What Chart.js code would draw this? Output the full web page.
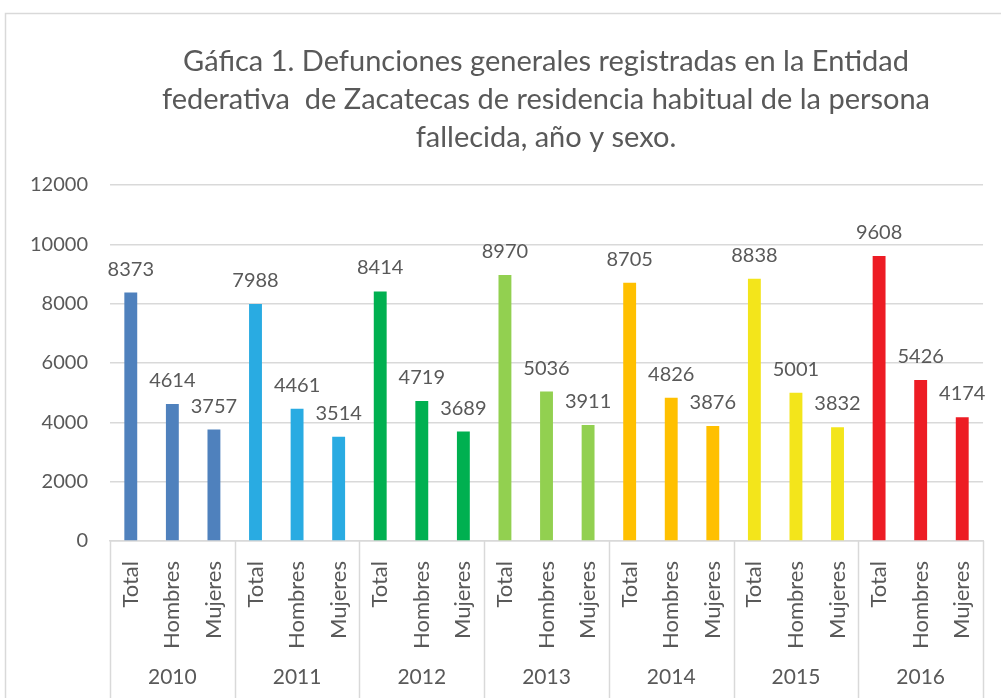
<!DOCTYPE html>
<html>
<head>
<meta charset="utf-8">
<script src="https://cdn.jsdelivr.net/npm/chart.js@4.4.1/dist/chart.umd.min.js"></script>
<style>
  html, body { margin: 0; padding: 0; background: #fff; }
  #wrap { width: 1001px; height: 698px; position: relative; }
</style>
</head>
<body>
<div id="wrap"><canvas id="grafica" width="1001" height="698"></canvas></div>
<script>
// Datos de la gráfica
const years = ['2010', '2011', '2012', '2013', '2014', '2015', '2016'];
const sexes = ['Total', 'Hombres', 'Mujeres'];
const totalValues = [8373, 7988, 8414, 8970, 8705, 8838, 9608];
const hombresValues = [4614, 4461, 4719, 5036, 4826, 5001, 5426];
const mujeresValues = [3757, 3514, 3689, 3911, 3876, 3832, 4174];
const yearColors = ['#4F81BD', '#29ABE2', '#00B050', '#92D050', '#FFC000', '#F3E51B', '#ED1C24'];
const titleLines = [
  'Gáfica 1. Defunciones generales registradas en la Entidad',
  'federativa  de Zacatecas de residencia habitual de la persona',
  'fallecida, año y sexo.'
];
const yMax = 12000;
const yStep = 2000;

const FONT = 'Lato, "Open Sans", sans-serif';
const TEXT = '#595959';
const LINE = '#d9d9d9';

// Etiquetas y valores en orden año -> sexo
const labels = [];
const values = [];
const colors = [];
years.forEach((year, i) => {
  const byYear = [totalValues[i], hombresValues[i], mujeresValues[i]];
  sexes.forEach((sex, j) => {
    labels.push(sex);
    values.push(byYear[j]);
    colors.push(yearColors[i]);
  });
});

// Marco, título, etiquetas de datos y eje de años
const excelLook = {
  id: 'excelLook',
  afterDraw(chart) {
    const ctx = chart.ctx;
    const area = chart.chartArea;
    const x = chart.scales.x;
    ctx.save();

    // marco del gráfico
    ctx.strokeStyle = LINE;
    ctx.lineWidth = 1.5;
    ctx.strokeRect(5.5, 13.5, 1010, 700);

    // título
    ctx.fillStyle = TEXT;
    ctx.font = '29px ' + FONT;
    ctx.textAlign = 'center';
    ctx.textBaseline = 'middle';
    titleLines.forEach((line, i) => ctx.fillText(line, 546, 62 + i * 38));

    // valores sobre las barras
    ctx.font = '20px ' + FONT;
    ctx.textBaseline = 'alphabetic';
    const meta = chart.getDatasetMeta(0);
    meta.data.forEach((bar, i) => {
      ctx.fillText(String(values[i]), bar.x, bar.y - 17);
    });

    // separadores de grupo y años
    ctx.strokeStyle = LINE;
    ctx.lineWidth = 1.5;
    const bounds = [];
    for (let i = 0; i <= years.length; i++) {
      let bx;
      if (i === 0) bx = area.left;
      else if (i === years.length) bx = area.right;
      else bx = (x.getPixelForValue(i * 3 - 1) + x.getPixelForValue(i * 3)) / 2;
      bounds.push(bx);
      ctx.beginPath();
      ctx.moveTo(Math.round(bx) + 0.5, area.bottom);
      ctx.lineTo(Math.round(bx) + 0.5, 698);
      ctx.stroke();
    }
    ctx.textBaseline = 'middle';
    ctx.font = '21px ' + FONT;
    years.forEach((year, i) => {
      ctx.fillText(year, (bounds[i] + bounds[i + 1]) / 2, 677);
    });
    ctx.restore();
  }
};

new Chart(document.getElementById('grafica').getContext('2d'), {
  type: 'bar',
  data: {
    labels: labels,
    datasets: [{
      data: values,
      backgroundColor: colors,
      borderWidth: 0,
      categoryPercentage: 1,
      barPercentage: 0.31
    }]
  },
  options: {
    responsive: false,
    animation: false,
    layout: { padding: { top: 185, right: 15, bottom: 0, left: 0 } },
    plugins: {
      legend: { display: false },
      title: { display: false },
      tooltip: { enabled: false }
    },
    scales: {
      x: {
        grid: { display: false },
        border: { color: LINE, width: 1.5 },
        ticks: {
          autoSkip: false,
          minRotation: 90,
          maxRotation: 90,
          padding: 12,
          color: TEXT,
          font: { family: FONT, size: 22 }
        },
        afterFit(scale) { scale.height = 157; }
      },
      y: {
        min: 0,
        max: yMax,
        ticks: {
          stepSize: yStep,
          padding: 22,
          color: TEXT,
          font: { family: FONT, size: 20 },
          callback: (value) => String(value)
        },
        grid: { color: LINE, lineWidth: 1.5, drawTicks: false },
        border: { display: false },
        afterFit(scale) { scale.width = 110; }
      }
    }
  },
  plugins: [excelLook]
});
</script>
</body>
</html>
